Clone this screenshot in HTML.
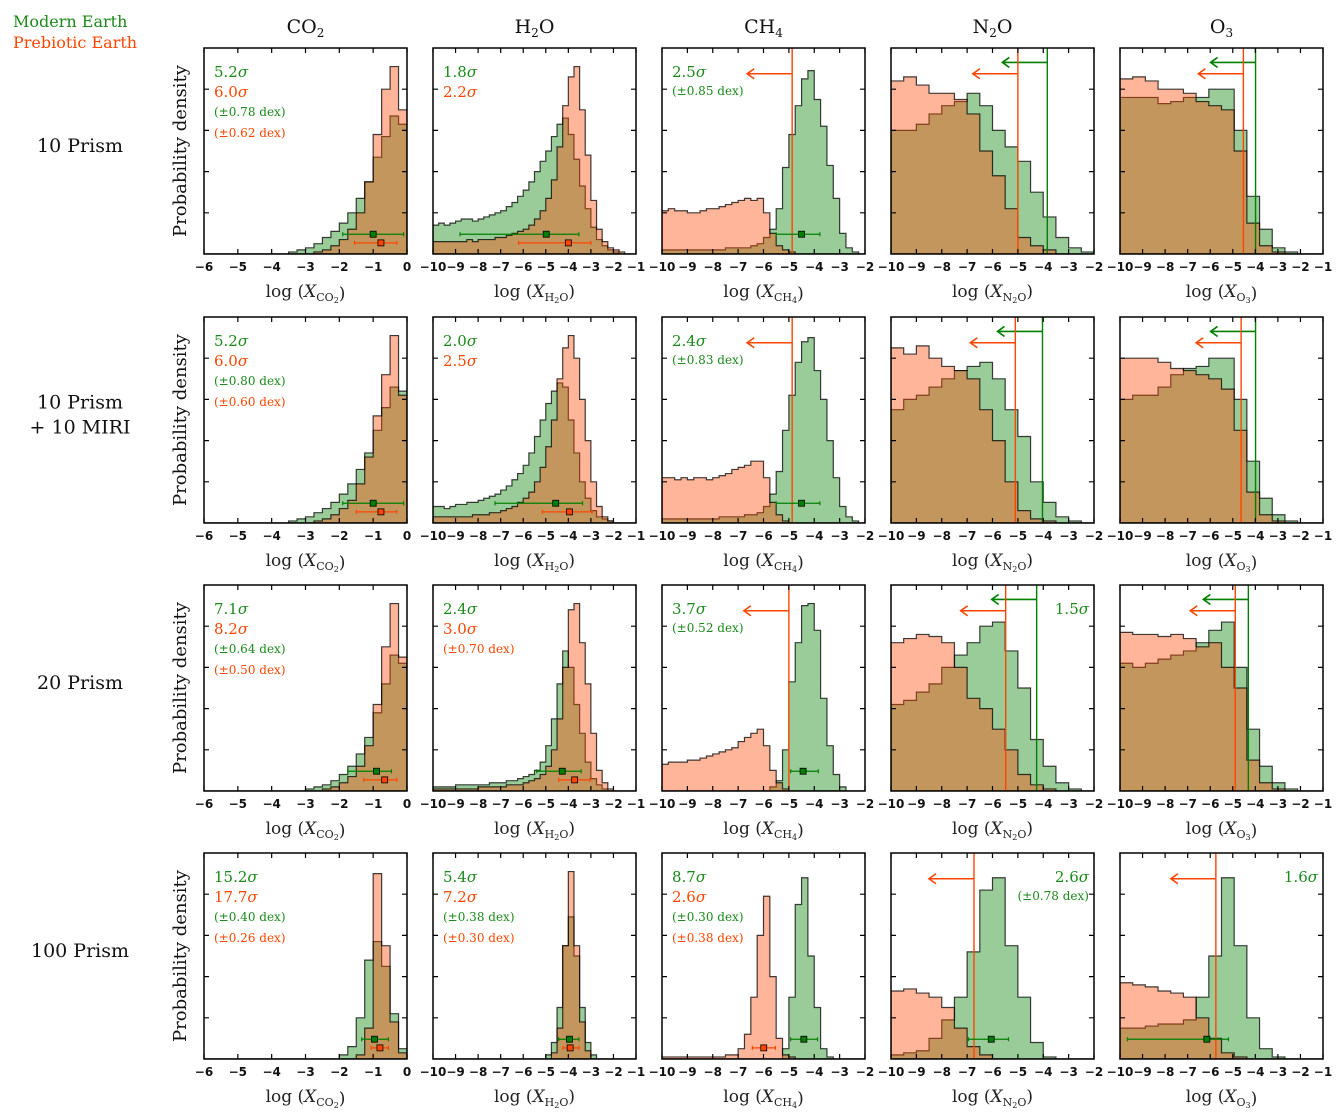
<!DOCTYPE html>
<html><head><meta charset="utf-8">
<style>
html,body{margin:0;padding:0;background:#fff;}
svg{display:block;}
text{font-family:"DejaVu Serif","Liberation Serif",serif;}
.tick{font-family:"DejaVu Sans","Liberation Sans",sans-serif;font-size:12px;font-weight:bold;fill:#111;}
</style></head>
<body>
<svg id="fig" width="1338" height="1113" viewBox="0 0 1338 1113" xmlns="http://www.w3.org/2000/svg">
<text x="13" y="27" font-size="16" fill="#1a8a1a">Modern Earth</text>
<text x="13" y="48" font-size="16" fill="#ff4500">Prebiotic Earth</text>
</svg>
<script>
// ---- data: histogram heights (percent of panel height) ----
// column 1 CO2: bins of 0.25 dex from -6 to 0
const co2_r1_green=[0,0,0,0,0,0,0,0,0,0,1,2,3,5,8,11,15,20,27,35,47,57,67,63];
const co2_r1_orange=[0,0,0,0,0,0,0,0,0,0,0,0,0,1,2,4,7,12,20,35,58,80,91,70];
const co2_r2_green=[0,0,0,0,0,0,0,0,0,0,1,2,3,5,7,10,14,19,26,34,45,56,66,64];
const co2_r2_orange=[0,0,0,0,0,0,0,0,0,0,0,0,0,1,2,4,7,11,19,32,52,72,91,62];
const co2_r3_green=[0,0,0,0,0,0,0,0,0,0,0,0,1,2,3,5,8,12,18,26,38,52,66,62];
const co2_r4_green=[0,0,0,0,0,0,0,0,0,0,0,0,0,0,0,0,2,6,20,48,57,45,22,5];
const co2_r3_orange=[0,0,0,0,0,0,0,0,0,0,0,0,0,0,1,2,4,7,12,22,42,70,91,65];
const co2_r4_orange=[0,0,0,0,0,0,0,0,0,0,0,0,0,0,0,0,0,0,2,15,90,55,18,3];
// column 2 H2O: bins of 0.25 dex from -10 to -1
const h2o_r1_green=[14,15,14,15,16,17,17,16,17,18,19,20,21,23,25,28,31,35,40,45,50,57,63,66,58,46,33,22,13,7,4,2,1,0,0,0];
const h2o_r1_orange=[6,6,6,6,6,6,7,6,7,7,7,8,8,9,10,11,12,14,17,21,27,36,52,72,86,91,70,48,26,12,6,3,2,1,0,0];
const h2o_r2_green=[8,8,7,8,9,9,10,10,11,12,13,14,16,18,21,24,28,34,42,50,58,64,68,66,50,34,20,12,6,3,2,1,0,0,0,0];
const h2o_r2_orange=[3,3,3,3,3,3,3,4,4,4,5,5,6,7,8,10,12,15,20,27,37,50,70,85,91,80,60,40,20,8,3,1,0,0,0,0];
const h2o_r3_green=[2,2,2,2,3,3,3,3,3,3,4,4,4,5,5,6,7,8,10,14,22,35,52,68,60,42,28,14,6,3,1,0,0,0,0,0];
const h2o_r3_orange=[1,1,1,1,1,1,1,1,2,2,2,2,2,3,3,3,4,5,6,8,12,20,35,60,88,91,72,52,28,10,4,1,0,0,0,0];
const h2o_r4_green=[0,0,0,0,0,0,0,0,0,0,0,0,0,0,0,0,0,0,0,0,2,8,25,55,69,50,25,8,2,0,0,0,0,0,0,0];
const h2o_r4_orange=[0,0,0,0,0,0,0,0,0,0,0,0,0,0,0,0,0,0,0,0,0,3,15,55,91,55,18,4,0,0,0,0,0,0,0,0];
// column 3 CH4: bins of 0.25 dex from -10 to -2
const ch4_r1_green=[2,2,2,2,2,2,2,2,2,2,3,3,3,3,4,5,8,12,22,42,58,72,85,89,75,62,43,27,10,3,1,0];
const ch4_r1_orange=[21,22,21,21,20,20,21,22,22,23,24,25,26,27,26,27,20,10,4,2,1,0,0,0,0,0,0,0,0,0,0,0];
const ch4_r2_green=[2,2,2,2,2,2,2,2,2,3,3,3,3,4,4,5,8,14,25,45,62,78,88,90,74,60,40,22,8,3,1,0];
const ch4_r2_orange=[22,22,21,22,21,22,22,21,22,23,24,26,27,28,30,30,22,10,4,1,0,0,0,0,0,0,0,0,0,0,0,0];
const ch4_r3_green=[0,0,0,0,0,0,0,0,0,0,0,0,0,0,0,0,0,2,5,20,53,72,90,91,78,45,22,8,2,0,0,0];
const ch4_r3_orange=[13,14,14,14,15,15,16,17,18,19,20,21,24,26,28,30,22,10,4,1,0,0,0,0,0,0,0,0,0,0,0,0];
const ch4_r4_green=[0,0,0,0,0,0,0,0,0,0,0,0,0,0,0,0,0,0,0,5,30,75,88,50,25,5,1,0,0,0,0,0];
const ch4_r4_orange=[1,1,1,1,1,1,1,1,1,1,2,2,5,12,30,60,79,40,10,2,1,0,0,0,0,0,0,0,0,0,0,0];
// column 4 N2O: bins of 0.5 dex from -10 to -2
const n2o_r1_green=[60,60,63,68,72,74,78,72,60,52,45,30,18,8,3,1];
const n2o_r1_orange=[84,86,82,78,78,75,68,50,38,22,8,4,2,0,0,0];
const n2o_r2_green=[55,60,62,66,70,74,76,78,70,55,42,20,10,3,1,0];
const n2o_r2_orange=[85,82,86,80,76,74,70,55,40,20,6,2,1,0,0,0];
const n2o_r3_green=[42,44,48,52,60,66,72,80,82,68,50,25,12,4,1,0];
const n2o_r3_orange=[72,74,76,75,72,60,45,40,30,20,8,3,1,0,0,0];
const n2o_r4_green=[2,3,4,10,19,30,52,82,88,55,30,8,1,0,0,0];
const n2o_r4_orange=[33,34,32,30,25,15,6,2,0,0,0,0,0,0,0,0];
// column 5 O3: 16 bins of 0.5625 dex from -10 to -1
const o3_r1_green=[76,76,76,73,74,76,76,80,80,60,28,12,3,1,0,0];
const o3_r1_orange=[85,86,84,80,80,78,74,72,70,50,15,4,1,0,0,0];
const o3_r2_green=[60,62,62,66,72,75,76,80,80,60,30,12,4,1,0,0];
const o3_r2_orange=[80,80,80,78,75,74,72,70,65,45,15,4,1,0,0,0];
const o3_r3_green=[62,60,62,64,66,68,72,78,82,60,30,12,4,1,0,0];
const o3_r3_orange=[77,76,76,75,76,74,70,72,60,50,15,4,1,0,0,0];
const o3_r4_green=[15,15,16,17,17,19,30,50,88,55,20,5,1,0,0,0];
const o3_r4_orange=[37,36,35,33,32,30,20,10,3,1,0,0,0,0,0,0];
// error bars: [center, low, high] in log dex
const errbars_green=[[[-1.0,-1.9,-0.1],[-4.98,-8.8,-3.53],[-4.5,-5.5,-3.78],null,null],
 [[-1.0,-1.9,-0.1],[-4.56,-7.25,-3.37],[-4.5,-5.5,-3.78],null,null],
 [[-0.9,-1.75,-0.46],[-4.27,-5.4,-3.43],[-4.44,-4.93,-3.84],null,null],
 [[-0.96,-1.34,-0.55],[-3.95,-4.43,-3.53],[-4.41,-4.93,-3.87],[-6.05,-6.95,-5.37],[-6.15,-9.67,-5.19]]];
const errbars_orange=[[[-0.77,-1.55,-0.3],[-4.0,-6.2,-3.0],null,null,null],
 [[-0.77,-1.5,-0.3],[-3.95,-5.15,-2.95],null,null,null],
 [[-0.66,-1.28,-0.3],[-3.72,-4.43,-3.04],null,null,null],
 [[-0.8,-1.06,-0.55],[-3.92,-4.24,-3.53],[-5.99,-6.44,-5.53],null,null]];
// upper limits (vertical lines)
const limits_orange=[[null,null,-4.87,-5.0,-4.53],[null,null,-4.87,-5.1,-4.63],[null,null,-5.0,-5.48,-4.89],[null,null,null,-6.73,-5.75]];
const limits_green=[[null,null,null,-3.84,-3.99],[null,null,null,-4.03,-3.99],[null,null,null,-4.26,-4.31],[null,null,null,null,null]];
const sig_text=[
 [[["5.2","g",1],["6.0","o",1],["(±0.78 dex)","g",0],["(±0.62 dex)","o",0]],[["1.8","g",1],["2.2","o",1]],[["2.5","g",1],["(±0.85 dex)","g",0]],[],[]],
 [[["5.2","g",1],["6.0","o",1],["(±0.80 dex)","g",0],["(±0.60 dex)","o",0]],[["2.0","g",1],["2.5","o",1]],[["2.4","g",1],["(±0.83 dex)","g",0]],[],[]],
 [[["7.1","g",1],["8.2","o",1],["(±0.64 dex)","g",0],["(±0.50 dex)","o",0]],[["2.4","g",1],["3.0","o",1],["(±0.70 dex)","o",0]],[["3.7","g",1],["(±0.52 dex)","g",0]],[],[]],
 [[["15.2","g",1],["17.7","o",1],["(±0.40 dex)","g",0],["(±0.26 dex)","o",0]],[["5.4","g",1],["7.2","o",1],["(±0.38 dex)","g",0],["(±0.30 dex)","o",0]],[["8.7","g",1],["2.6","o",1],["(±0.30 dex)","g",0],["(±0.38 dex)","o",0]],[],[]]];
const sig_right=[[[],[],[],[],[]],[[],[],[],[],[]],[[],[],[],[["1.5","g",1]],[]],[[],[],[],[["2.6","g",1],["(±0.78 dex)","g",0]],[["1.6","g",1]]]];
const row_labels=[["10 Prism"],["10 Prism","+ 10 MIRI"],["20 Prism"],["100 Prism"]];
const col_species=[["CO","2"],["H","2","O"],["CH","4"],["N","2","O"],["O","3"]];
const col_xmin=[-6,-10,-10,-10,-10];
const col_xmax=[0,-1,-2,-2,-1];
const col_binw=[0.25,0.25,0.25,0.5,0.5625];

const hists=[
 [[co2_r1_green,co2_r1_orange],[h2o_r1_green,h2o_r1_orange],[ch4_r1_green,ch4_r1_orange],[n2o_r1_green,n2o_r1_orange],[o3_r1_green,o3_r1_orange]],
 [[co2_r2_green,co2_r2_orange],[h2o_r2_green,h2o_r2_orange],[ch4_r2_green,ch4_r2_orange],[n2o_r2_green,n2o_r2_orange],[o3_r2_green,o3_r2_orange]],
 [[co2_r3_green,co2_r3_orange],[h2o_r3_green,h2o_r3_orange],[ch4_r3_green,ch4_r3_orange],[n2o_r3_green,n2o_r3_orange],[o3_r3_green,o3_r3_orange]],
 [[co2_r4_green,co2_r4_orange],[h2o_r4_green,h2o_r4_orange],[ch4_r4_green,ch4_r4_orange],[n2o_r4_green,n2o_r4_orange],[o3_r4_green,o3_r4_orange]]];

const NS="http://www.w3.org/2000/svg";
const svg=document.getElementById('fig');
const LEFTS=[204,433,662,891,1120], TOPS=[48,317,585,853], W=203, H=206;
const GREEN="#008000", ORANGE="#ff4500", GTXT="#1a8a1a";
function mk(tag,attrs,parent){const e=document.createElementNS(NS,tag);for(const k in attrs)e.setAttribute(k,attrs[k]);(parent||svg).appendChild(e);return e;}

for(let c=0;c<5;c++){
  const cx=LEFTS[c]+W/2;
  const t=mk('text',{x:cx,y:33,'font-size':19,'text-anchor':'middle',fill:'#111'});
  
  
  const sp=col_species[c];
  sp.forEach((s,i)=>{const ts=mk('tspan',{},t);ts.textContent=s;if(i%2===1){ts.setAttribute('font-size','12');ts.setAttribute('dy','4');}else if(i>0){ts.setAttribute('dy','-4');}});
}
for(let r=0;r<4;r++){
  const lines=row_labels[r];const cy=TOPS[r]+H/2;
  lines.forEach((ln,i)=>{const t=mk('text',{x:80,y:cy+1+(i-(lines.length-1)/2)*25,'font-size':19,'text-anchor':'middle',fill:'#111'});t.textContent=ln;
    
    });
  const yl=mk('text',{x:0,y:0,'font-size':18,'text-anchor':'middle',fill:'#111',transform:`translate(186,${cy}) rotate(-90)`});
  yl.textContent='Probability density';
  
  
  for(let c=0;c<5;c++) drawPanel(r,c);
}

function drawPanel(r,c){
  const L=LEFTS[c],T=TOPS[r],xmin=col_xmin[c],xmax=col_xmax[c],bw=col_binw[c];
  const X=v=>L+(v-xmin)/(xmax-xmin)*W;
  const Y=p=>T+H*(1-p/100);
  const g=mk('g',{});
  
  
  const cp='clip'+r+c;
  const cl=mk('clipPath',{id:cp},g);mk('rect',{x:L,y:T,width:W,height:H},cl);
  const hg=mk('g',{'clip-path':`url(#${cp})`},g);
  hists[r][c].forEach((arr,k)=>{
    let d=`M${X(xmin)},${Y(0)}`;
    arr.forEach((v,i)=>{const a=xmin+i*bw;d+=` L${X(a)},${Y(v)} L${X(a+bw)},${Y(v)}`;});
    d+=` L${X(xmin+arr.length*bw)},${Y(0)} Z`;
    const p=mk('path',{d:d,fill:k===0?GREEN:ORANGE,'fill-opacity':0.4,stroke:'#000','stroke-opacity':0.75,'stroke-width':1.2},hg);
    
    
  });
  [[limits_green,GREEN,7],[limits_orange,ORANGE,12.5]].forEach(([lim,col,ay])=>{
    const v=lim[r][c]; if(v===null) return;
    const x=X(v);
    const ln=mk('line',{x1:x,y1:T,x2:x,y2:T+H,stroke:col,'stroke-width':1.4},g);
    
    
    const y=T+H*ay/100, x2=x-45;
    const ar=mk('path',{d:`M${x},${y} L${x2},${y} M${x2+7},${y-5} L${x2},${y} L${x2+7},${y+5}`,stroke:col,'stroke-width':1.6,fill:'none'},g);
    
    
  });
  [[errbars_green,GREEN,9.6],[errbars_orange,ORANGE,5.4]].forEach(([eb,col,yp])=>{
    const e=eb[r][c]; if(!e) return;
    const y=Y(yp);
    const eg=mk('g',{},g);
    
    
    mk('path',{d:`M${X(e[1])},${y} L${X(e[2])},${y} M${X(e[1])},${y-2} L${X(e[1])},${y+2} M${X(e[2])},${y-2} L${X(e[2])},${y+2}`,stroke:col,'stroke-width':1.2},eg);
    mk('rect',{x:X(e[0])-3,y:y-3,width:6,height:6,fill:col,stroke:'#000','stroke-width':0.8},eg);
  });
  const fr=mk('rect',{x:L,y:T,width:W,height:H,fill:'none',stroke:'#000','stroke-width':1.5},g);
  
  
  let td='';
  for(let v=xmin;v<=xmax;v++){const x=X(v);td+=`M${x},${T+H} L${x},${T+H-5} M${x},${T} L${x},${T+5} `;
    const tl=mk('text',{x:x,y:T+H+17,'text-anchor':'middle',class:'tick'},g);tl.textContent=(v<0?'\u2212':'')+Math.abs(v);
    
    }
  [20,40,60,80].forEach(p=>{const y=Y(p);td+=`M${L},${y} L${L+5},${y} M${L+W},${y} L${L+W-5},${y} `;});
  mk('path',{d:td,stroke:'#000','stroke-width':1.2},g);
  const xl=mk('text',{x:L+W/2,y:T+H+43,'font-size':17,'text-anchor':'middle',fill:'#222'},g);
  
  
  const a=mk('tspan',{},xl);a.textContent='log (';
  const b=mk('tspan',{'font-style':'italic'},xl);b.textContent='X';
  const sp=col_species[c];
  sp.forEach((s,i)=>{const ts=mk('tspan',{'font-size':i%2===1?8:11},xl);ts.textContent=s;if(i===0)ts.setAttribute('dy','4');else if(i%2===1)ts.setAttribute('dy','2');else ts.setAttribute('dy','-2');});
  const z=mk('tspan',{dy:-4},xl);z.textContent=')';
  const offs=[23,43,64,85];
  function addLabel(s,i,right){
    const attrs={x:right?L+W-5:L+10,y:T+offs[i]+(s[2]?6:4),'font-size':s[2]?15:12,fill:s[1]==='g'?GTXT:ORANGE};
    if(right) attrs['text-anchor']='end';
    const t=mk('text',attrs,g);
    
    
    const m=mk('tspan',{},t);m.textContent=s[0];
    if(s[2]){const sg=mk('tspan',{'font-style':'italic'},t);sg.textContent='σ';}
  }
  sig_text[r][c].forEach((s,i)=>addLabel(s,i,false));
  sig_right[r][c].forEach((s,i)=>addLabel(s,i,true));
}
</script>
</body></html>
